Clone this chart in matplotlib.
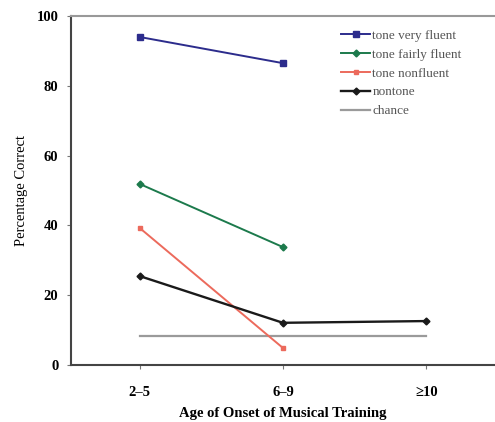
import matplotlib
matplotlib.use('Agg')
import matplotlib.pyplot as plt

ages = ['2\u20135', '6\u20139', '\u226510']
x_pos = [1, 2, 3]

very_fluent = [94.0, 86.5]
fairly_fluent = [51.9, 33.8]
nonfluent = [39.3, 4.9]
nontone = [25.5, 12.1, 12.6]
chance = [8.3, 8.3, 8.3]

plt.rcParams['font.family'] = ['Liberation Serif', 'DejaVu Serif']

fig = plt.figure(figsize=(4.95, 4.22), dpi=100)
ax = fig.add_axes([0.143, 0.135, 0.857, 0.827])

ax.plot(x_pos, chance, color='#9a9a9a', lw=1.6, label='chance', zorder=1)
ax.plot(x_pos[:2], very_fluent, color='#2c2c8c', marker='s', ms=4, lw=1.4,
        label='tone very fluent')
ax.plot(x_pos[:2], fairly_fluent, color='#1c7a4c', marker='D', ms=3.5, lw=1.4,
        label='tone fairly fluent')
ax.plot(x_pos[:2], nonfluent, color='#ec6a5c', marker='s', ms=3.5, lw=1.4,
        label='tone nonfluent')
ax.plot(x_pos, nontone, color='#1a1a1a', marker='D', ms=3.5, lw=1.7,
        label='nontone')

ax.set_xlim(0.52, 3.48)
ax.set_ylim(0, 100)
ax.set_yticks([0, 20, 40, 60, 80, 100])
ax.set_xticks(x_pos)
ax.set_xticklabels(ages, fontweight='bold', fontsize=10.5)
for t in ax.get_yticklabels():
    t.set_fontweight('bold')
    t.set_fontsize(10.5)
ax.tick_params(axis='x', direction='out', length=3, color='#777777', pad=12)
ax.tick_params(axis='y', direction='out', length=3, color='#777777', pad=6)

for s in ['left', 'bottom']:
    ax.spines[s].set_color('#444444')
    ax.spines[s].set_linewidth(1.5)
ax.spines['top'].set_color('#999999')
ax.spines['top'].set_linewidth(1.5)
ax.spines['right'].set_visible(False)

ax.set_xlabel('Age of Onset of Musical Training', fontweight='bold', fontsize=10.5,
              labelpad=6)
ax.set_ylabel('Percentage Correct', fontsize=10.5, labelpad=6)

h, l = ax.get_legend_handles_labels()
order = [1, 2, 3, 4, 0]
ax.legend([h[i] for i in order], [l[i] for i in order], loc='upper left',
          bbox_to_anchor=(0.61, 0.995), frameon=False, fontsize=9.5,
          handlelength=2.2, handletextpad=0.15, labelspacing=0.5,
          labelcolor='#555555')

fig.savefig('out.png', dpi=100)
